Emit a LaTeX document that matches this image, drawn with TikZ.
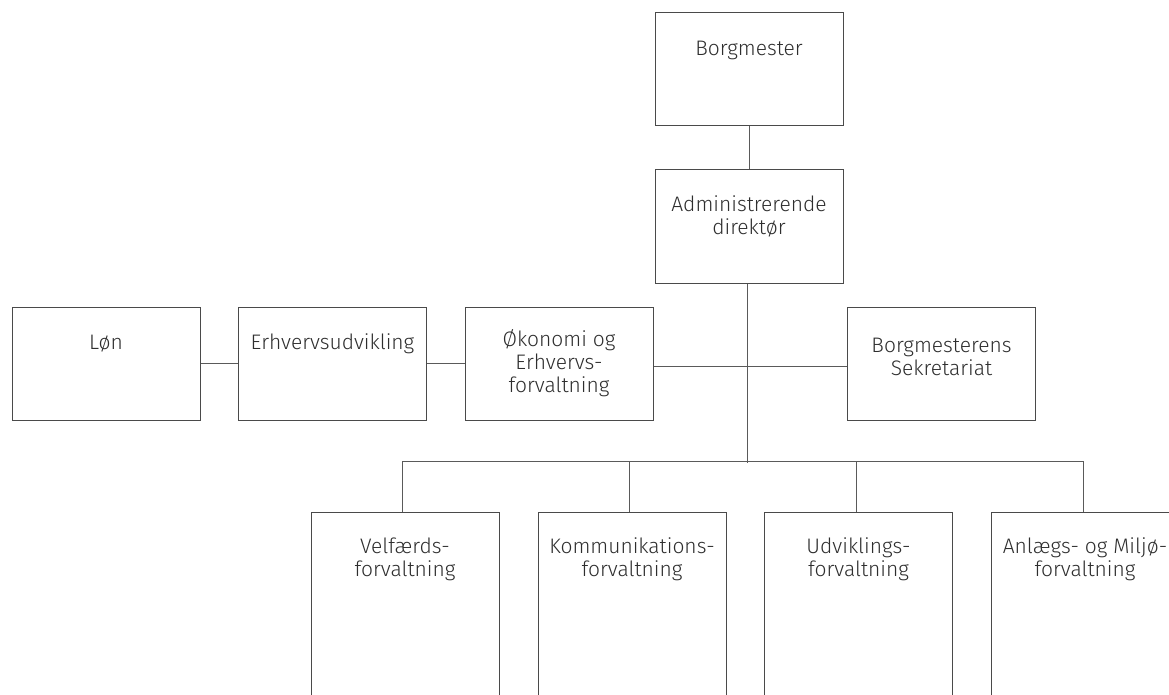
\documentclass[tikz,border=0pt]{standalone}
\usepackage{fontspec}
\setmainfont{Fira Sans Light}
\definecolor{boxc}{HTML}{4A4A4A}
\definecolor{linec}{HTML}{5A5A5A}
\definecolor{txtc}{HTML}{2E2E2E}
\begin{document}
\begin{tikzpicture}[x=1pt,y=-1pt,
  box/.style={draw=boxc, line width=1pt, minimum width=188pt, minimum height=113pt, inner sep=0pt},
  tallbox/.style={draw=boxc, line width=1pt, minimum width=188pt, minimum height=200pt, inner sep=0pt, anchor=north},
  txt/.style={text=txtc, font=\fontsize{21}{23}\selectfont, align=center, inner sep=0pt},
  toptxt/.style={txt, anchor=north, yshift=-27pt},
  conn/.style={draw=linec, line width=1pt}]
\useasboundingbox (0,0) rectangle (1169,695);
% top
\node[box] (bm) at (749,69.5) {};
\node[toptxt] (bmt) at (bm.north) {\strut Borgmester};
\node[box] (ad) at (749,226.5) {};
\node[toptxt, yshift=1.5pt] (adt) at (ad.north) {\strut Administrerende\\direktør};
% middle row
\node[box] (lon) at (106,363.5) {};
\node[toptxt] (lont) at (lon.north) {\strut Løn};
\node[box] (erh) at (332.5,363.5) {};
\node[toptxt] (erht) at (erh.north) {\strut Erhvervsudvikling};
\node[box] (oek) at (559,363.5) {};
\node[txt] (oekt) at (oek.center) {\strut Økonomi og\\Erhvervs-\\forvaltning};
\node[box] (bs) at (941.5,363.5) {};
\node[txt, yshift=7pt] (bst) at (bs.center) {\strut Borgmesterens\\Sekretariat};
% bottom row
\node[tallbox] (vel) at (405,512) {};
\node[toptxt, yshift=2pt] (velt) at (vel.north) {\strut Velfærds-\\forvaltning};
\node[tallbox] (kom) at (632,512) {};
\node[toptxt, yshift=2pt] (komt) at (kom.north) {\strut Kommunikations-\\forvaltning};
\node[tallbox] (udv) at (858.5,512) {};
\node[toptxt, yshift=2pt] (udvt) at (udv.north) {\strut Udviklings-\\forvaltning};
\node[tallbox] (anl) at (1085,512) {};
\node[toptxt, yshift=2pt] (anlt) at (anl.north) {\strut Anlægs- og Miljø-\\forvaltning};
% connectors
\coordinate (trunk) at (747,463);
\coordinate (busl) at (402,461);
\coordinate (busr) at (1083,461);
\coordinate (mid) at (747,366.5);
\path[conn] (bm.south) -- (ad.north);
\path[conn] (ad.south -| trunk) -- (trunk);
\path[conn] (lon.east) -- (erh.west);
\path[conn] (erh.east) -- (oek.west);
\path[conn] (oek.east |- mid) -- (bs.west |- mid);
\path[conn] (busl) -- (busr);
\path[conn] (busl) -- (vel.north -| busl);
\path[conn] (629,461) -- (kom.north -| 629,0);
\path[conn] (856,461) -- (udv.north -| 856,0);
\path[conn] (busr) -- (anl.north -| busr);
\end{tikzpicture}
\end{document}
